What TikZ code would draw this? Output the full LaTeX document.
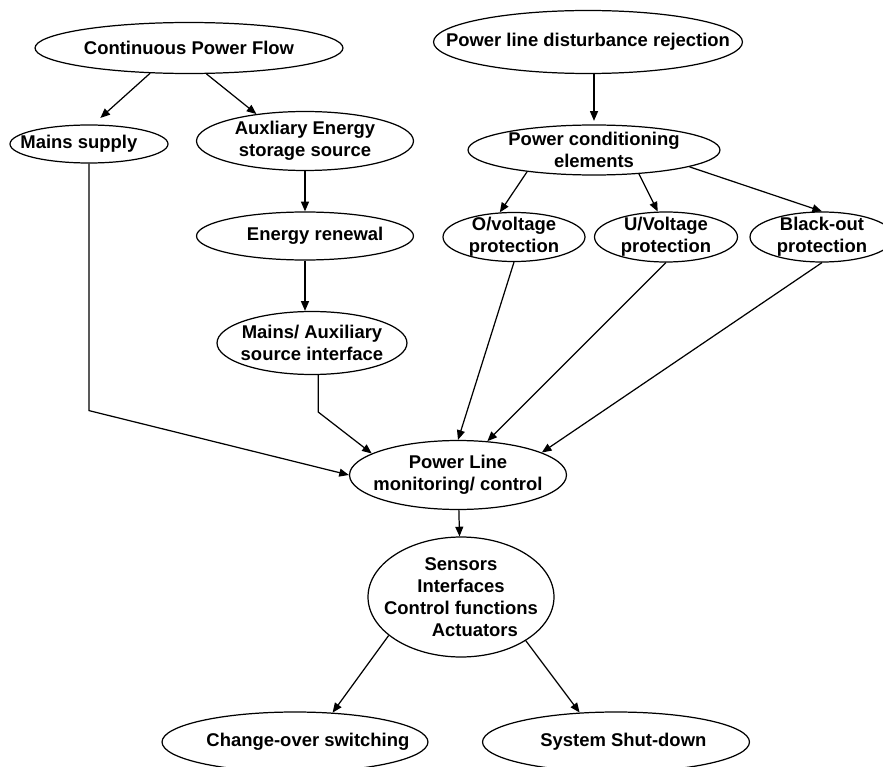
\documentclass[tikz,border=0pt]{standalone}
\usepackage{fontspec}
\setmainfont{Liberation Sans}
\usepackage{tikz}
\usetikzlibrary{shapes,arrows.meta,positioning,calc}

\begin{document}
\begin{tikzpicture}[x=0.02cm,y=0.02cm,
  blob/.style={draw,ellipse,line width=0.7pt,inner sep=-3cm,align=center,
               font=\bfseries\fontsize{10.5}{12.6}\selectfont},
  arr/.style={-{Triangle[length=5.5pt,width=4.5pt]},line width=0.7pt}]
  \clip (0,0) rectangle (883,-767);
  % supply side
  \node[blob,minimum width=6.16cm,minimum height=1.02cm] (cpf) at (189,-48) {Continuous Power Flow};
  \node[blob,minimum width=3.16cm,minimum height=0.76cm] (mains) at (89,-144) {Mains supply\hspace*{1.1em}};
  \node[blob,minimum width=4.34cm,minimum height=1.18cm] (aux) at (305,-141) {Auxliary Energy\\storage source};
  \node[blob,minimum width=4.34cm,minimum height=0.96cm] (renew) at (305,-236) {\hspace*{1.1em}Energy renewal};
  \node[blob,minimum width=3.8cm,minimum height=1.26cm] (iface) at (312,-343) {Mains/ Auxiliary\\source interface};
  % disturbance side
  \node[blob,minimum width=6.18cm,minimum height=1.26cm] (pldr) at (588,-42) {Power line disturbance rejection};
  \node[blob,minimum width=5.04cm,minimum height=1.0cm] (pce) at (594,-150) {Power conditioning\\elements};
  \node[blob,minimum width=2.84cm,minimum height=0.98cm] (ov) at (514,-237) {O/voltage\\protection};
  \node[blob,minimum width=2.86cm,minimum height=1.0cm] (uv) at (666,-237) {U/Voltage\\protection};
  \node[blob,minimum width=2.88cm,minimum height=1.0cm] (bo) at (822,-237) {Black-out\\protection};
  % control and outputs
  \node[blob,minimum width=4.34cm,minimum height=1.38cm] (plm) at (458,-475) {Power Line\\monitoring/ control};
  \node[blob,minimum width=3.72cm,minimum height=2.4cm] (sic) at (461,-597)
    {Sensors\\Interfaces\\Control functions\\\hspace*{1.5em}Actuators};
  \node[blob,minimum width=5.32cm,minimum height=1.2cm] (cos) at (295,-742) {\hspace*{1.4em}Change-over switching};
  \node[blob,minimum width=5.34cm,minimum height=1.2cm] (ssd) at (616,-742) {\hspace*{0.8em}System Shut-down};

  \draw[arr,shorten >=5.5pt] (cpf.213) -- (mains.78);
  \draw[arr] (cpf.304) -- (aux.151);
  \draw[arr] (aux) -- (renew);
  \draw[arr] (renew.south) -- (renew.south |- iface.north);
  \draw[arr] (iface.281) -- ++(0,-37) -- (plm.166);
  \draw[arr] (mains.south) -- ++(0,-247) -- (plm.west);
  \draw[arr,shorten >=2pt] (pldr.south -| pce.north) -- (pce.north);
  \draw[arr] (pce.198) -- (ov.120);
  \draw[arr] (pce.332) -- (uv.108);
  \draw[arr] (pce.350) -- (bo.north);
  \foreach \s/\a in {ov/north, uv/49, bo/15}
    \draw[arr] (\s.south) -- (plm.\a);
  \draw[arr] (plm) -- (sic);
  \draw[arr] (sic.208) -- (cos.38);
  \draw[arr] (sic.326) -- (ssd.141);
\end{tikzpicture}
\end{document}
